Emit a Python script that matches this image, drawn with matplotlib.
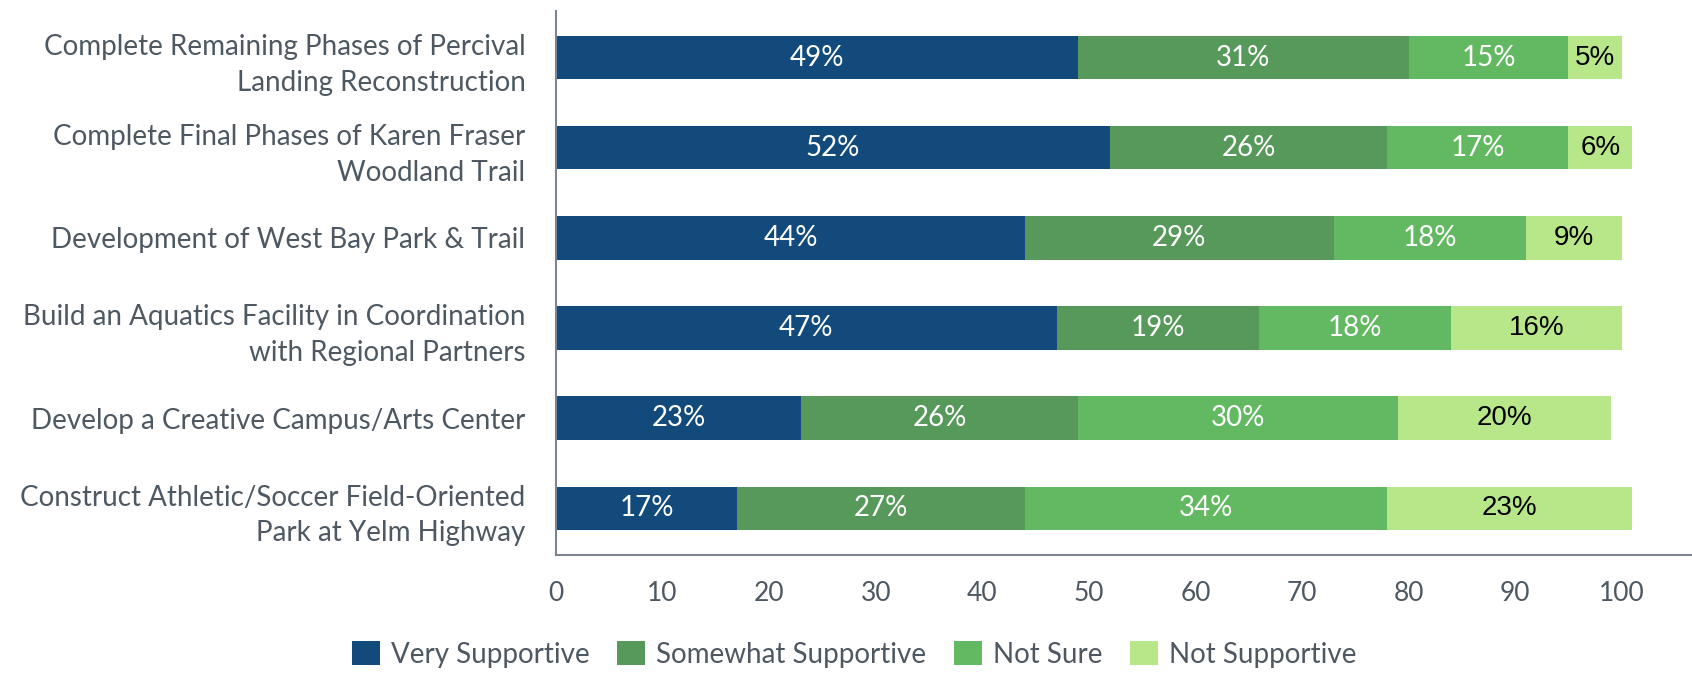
import matplotlib.pyplot as plt
import numpy as np

plt.rcParams['font.family'] = ['Lato', 'DejaVu Sans']

projects = [
    'Complete Remaining Phases of Percival\nLanding Reconstruction',
    'Complete Final Phases of Karen Fraser\nWoodland Trail',
    'Development of West Bay Park & Trail',
    'Build an Aquatics Facility in Coordination\nwith Regional Partners',
    'Develop a Creative Campus/Arts Center',
    'Construct Athletic/Soccer Field-Oriented\nPark at Yelm Highway',
]
series_names = ['Very Supportive', 'Somewhat Supportive', 'Not Sure', 'Not Supportive']
very = [49, 52, 44, 47, 23, 17]
somewhat = [31, 26, 29, 19, 26, 27]
not_sure = [15, 17, 18, 18, 30, 34]
not_supp = [5, 6, 9, 16, 20, 23]

colors = ['#124a7b', '#56995a', '#62b962', '#b8e78a']
text_colors = ['white', 'white', 'white', 'black']
label_fonts = ['Lato', 'Lato', 'Lato', 'Liberation Sans']

fig = plt.figure(figsize=(16.92, 6.79), dpi=100)
ax = fig.add_axes([0.3286, 0.1826, 0.6714, 0.8014])

y = np.arange(len(projects))
left = np.zeros(len(projects))
for name, vals, c, tc, fam in zip(series_names, [very, somewhat, not_sure, not_supp],
                                  colors, text_colors, label_fonts):
    vals = np.array(vals)
    ax.barh(y, vals, left=left, height=0.48, color=c, label=name)
    for yi, l, v in zip(y, left, vals):
        ax.text(l + v / 2, yi, f'{v}%', ha='center', va='center', color=tc,
                fontsize=20, family=fam)
    left += vals

ax.set_ylim(5.52, -0.52)
ax.set_xlim(0, 106.6)
ax.set_yticks(y)
ax.set_yticklabels(projects, fontsize=20, color='#4d5862', linespacing=1.45)
ax.set_xticks(range(0, 101, 10))
ax.tick_params(axis='x', labelsize=19, labelcolor='#4d5862', length=0, pad=19)
ax.tick_params(axis='y', length=0, pad=22)
for s in ['top', 'right']:
    ax.spines[s].set_visible(False)
for s in ['left', 'bottom']:
    ax.spines[s].set_color('#7d8690')
    ax.spines[s].set_linewidth(1.5)

fig.legend(loc='lower center', bbox_to_anchor=(0.505, -0.02), ncol=4, frameon=False,
           fontsize=20, labelcolor='#4d5862', handlelength=1.0, handleheight=1.0,
           columnspacing=1.0, handletextpad=0.4)

fig.savefig('out.png', dpi=100)
